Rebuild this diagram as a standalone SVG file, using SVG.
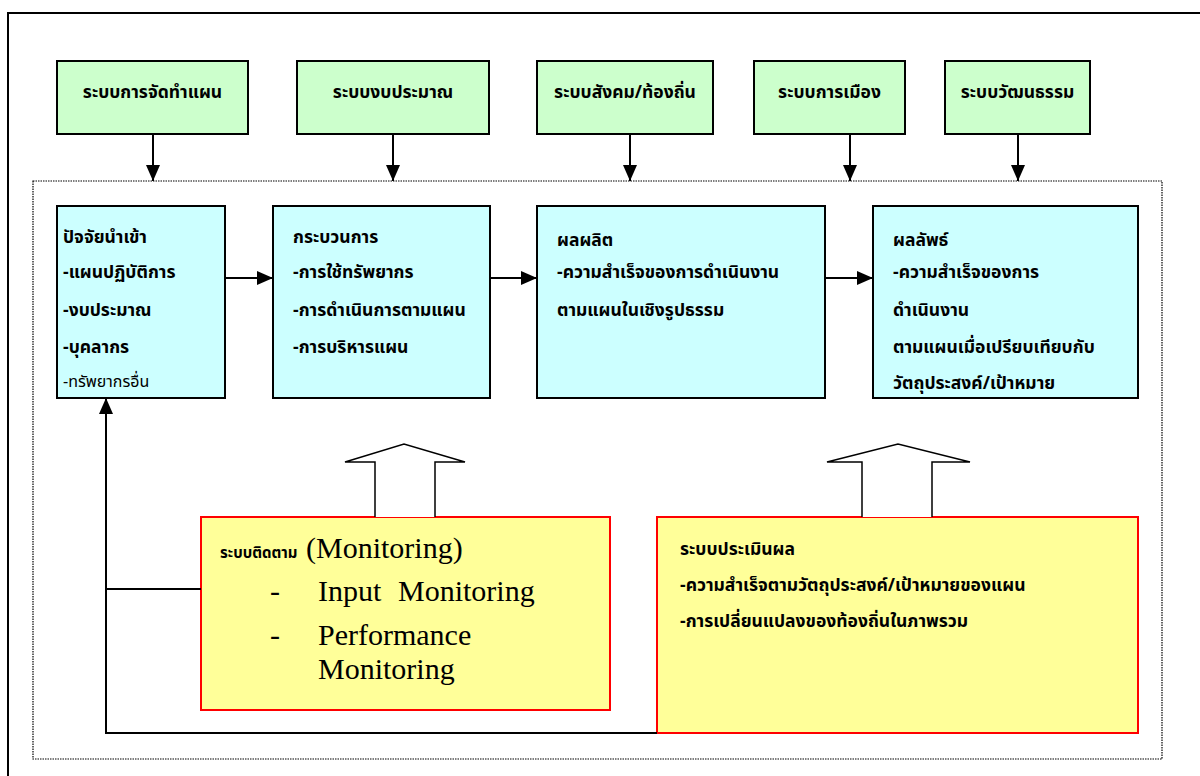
<svg xmlns="http://www.w3.org/2000/svg" width="1200" height="776" viewBox="0 0 1200 776">
<defs>
<marker id="ah" markerWidth="16" markerHeight="14" refX="16" refY="7" orient="auto" markerUnits="userSpaceOnUse" viewBox="0 0 16 14">
<path d="M0,0 L16,7 L0,14 z" fill="#000"/>
</marker>
<style>
.th{font-family:"Noto Sans Thai","Noto Serif Thai","Loma","Garuda","Norasi","Kinnari","Tlwg Typo","Noto Sans",sans-serif;fill:#000}
.b{font-weight:bold}
.green{fill:#ccffcc;stroke:#000;stroke-width:2}
.cyan{fill:#ccffff;stroke:#000;stroke-width:2}
.yellow{fill:#ffff99;stroke:#ff0000;stroke-width:2}
.ln{fill:none;stroke:#000;stroke-width:2}
.en{font-family:"Liberation Serif","Times New Roman",serif;fill:#000}
</style>
</defs>
<rect x="0" y="0" width="1200" height="776" fill="#fff"/>
<rect x="8" y="13" width="1200" height="800" fill="none" stroke="#000" stroke-width="2"/>
<rect x="33" y="181" width="1129" height="578" fill="none" stroke="#000" stroke-width="1.2" stroke-dasharray="1.5,1"/>

<g id="n-plan"><rect class="green" x="57" y="61" width="191" height="73"/><text class="th b" x="152.5" y="98" font-size="17.5" text-anchor="middle">ระบบการจัดทำแผน</text></g>
<g id="n-budget"><rect class="green" x="297" y="61" width="192" height="73"/><text class="th b" x="393" y="98" font-size="17.5" text-anchor="middle">ระบบงบประมาณ</text></g>
<g id="n-social"><rect class="green" x="537" y="61" width="176" height="73"/><text class="th b" x="625" y="98" font-size="17.5" text-anchor="middle">ระบบสังคม/ท้องถิ่น</text></g>
<g id="n-politics"><rect class="green" x="754" y="61" width="151" height="73"/><text class="th b" x="829.5" y="98" font-size="17.5" text-anchor="middle">ระบบการเมือง</text></g>
<g id="n-culture"><rect class="green" x="945" y="61" width="145" height="73"/><text class="th b" x="1017.5" y="98" font-size="17.5" text-anchor="middle">ระบบวัฒนธรรม</text></g>

<g id="n-input"><rect class="cyan" x="57" y="206" width="168" height="192"/>
<text class="th b" font-size="17.5"><tspan x="63" y="243">ปัจจัยนำเข้า</tspan><tspan x="63" y="278">-แผนปฏิบัติการ</tspan><tspan x="63" y="316">-งบประมาณ</tspan><tspan x="63" y="353">-บุคลากร</tspan></text>
<text class="th" font-size="16" x="63" y="387">-ทรัพยากรอื่น</text></g>
<g id="n-process"><rect class="cyan" x="273" y="206" width="217" height="192"/>
<text class="th b" font-size="17.5"><tspan x="293" y="243">กระบวนการ</tspan><tspan x="293" y="278">-การใช้ทรัพยากร</tspan><tspan x="293" y="316">-การดำเนินการตามแผน</tspan><tspan x="293" y="353">-การบริหารแผน</tspan></text></g>
<g id="n-output"><rect class="cyan" x="537" y="206" width="288" height="192"/>
<text class="th b" font-size="17.5"><tspan x="557" y="246">ผลผลิต</tspan><tspan x="557" y="278">-ความสำเร็จของการดำเนินงาน</tspan><tspan x="557" y="316">ตามแผนในเชิงรูปธรรม</tspan></text></g>
<g id="n-outcome"><rect class="cyan" x="873" y="206" width="265" height="192"/>
<text class="th b" font-size="17.5"><tspan x="893" y="246">ผลลัพธ์</tspan><tspan x="893" y="278">-ความสำเร็จของการ</tspan><tspan x="893" y="316">ดำเนินงาน</tspan><tspan x="893" y="353">ตามแผนเมื่อเปรียบเทียบกับ</tspan><tspan x="893" y="389">วัตถุประสงค์/เป้าหมาย</tspan></text></g>

<g id="n-monitor"><rect class="yellow" x="201" y="517" width="409" height="193"/>
<text class="th b" font-size="15" x="220" y="558">ระบบติดตาม</text>
<text class="en" font-size="30" x="306" y="558">(Monitoring)</text>
<text class="en" font-size="30"><tspan x="270" y="601">-</tspan><tspan x="318" y="601">Input</tspan><tspan x="398" y="601">Monitoring</tspan><tspan x="270" y="645">-</tspan><tspan x="318" y="645">Performance</tspan><tspan x="318" y="679">Monitoring</tspan></text></g>
<g id="n-eval"><rect class="yellow" x="657" y="517" width="481" height="216"/>
<text class="th b" font-size="17.5"><tspan x="680" y="555">ระบบประเมินผล</tspan><tspan x="680" y="591">-ความสำเร็จตามวัตถุประสงค์/เป้าหมายของแผน</tspan><tspan x="680" y="627">-การเปลี่ยนแปลงของท้องถิ่นในภาพรวม</tspan></text></g>

<g id="connectors">
<line class="ln" x1="153" y1="134" x2="153" y2="181" marker-end="url(#ah)"/>
<line class="ln" x1="393" y1="134" x2="393" y2="181" marker-end="url(#ah)"/>
<line class="ln" x1="630" y1="134" x2="630" y2="181" marker-end="url(#ah)"/>
<line class="ln" x1="850" y1="134" x2="850" y2="181" marker-end="url(#ah)"/>
<line class="ln" x1="1018" y1="134" x2="1018" y2="181" marker-end="url(#ah)"/>
<line class="ln" x1="225" y1="278" x2="273" y2="278" marker-end="url(#ah)"/>
<line class="ln" x1="490" y1="278" x2="537" y2="278" marker-end="url(#ah)"/>
<line class="ln" x1="825" y1="278" x2="873" y2="278" marker-end="url(#ah)"/>
<polyline class="ln" points="657,733 106,733 106,398" marker-end="url(#ah)"/>
<line class="ln" x1="106" y1="589" x2="201" y2="589"/>
<path d="M375,517 L375,462 L345,462 L404,444 L465,462 L435,462 L435,517" fill="#fff" stroke="#000" stroke-width="1.5"/>
<path d="M862,517 L862,462 L827,462 L898,444 L970,462 L932,462 L932,517" fill="#fff" stroke="#000" stroke-width="1.5"/>
</g>
</svg>
